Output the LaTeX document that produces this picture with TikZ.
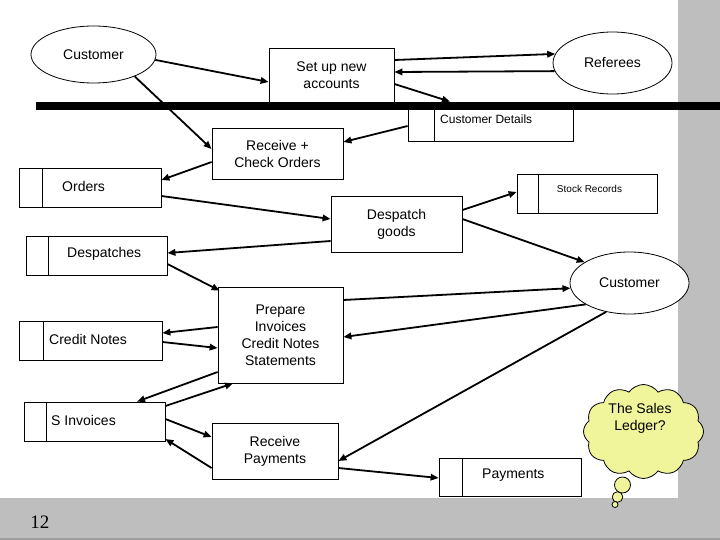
\documentclass[tikz,border=0pt]{standalone}
\usepackage{fontspec}
\setmainfont{Liberation Sans}
\newfontfamily\pagenumfont{Liberation Serif}
\usetikzlibrary{arrows.meta,shapes.geometric,shapes.symbols,calc}
\definecolor{slidegray}{RGB}{190,190,190}
\definecolor{cloudyellow}{RGB}{240,244,155}
\begin{document}
\begin{tikzpicture}[x=1pt,y=-1pt,
  every node/.style={font=\fontsize{14}{17}\selectfont},
  box/.style={draw,line width=0.8pt,fill=white,inner sep=0pt,align=center},
  ell/.style={ellipse,draw,line width=0.8pt,fill=white,inner sep=0pt},
  store/.style={draw,line width=0.8pt,fill=white,inner sep=0pt,
    path picture={\draw[line width=0.8pt] ([xshift=#1]path picture bounding box.north west) -- ([xshift=#1]path picture bounding box.south west);}},
  store/.default=23pt,
  flow/.style={line width=1.8pt,-{Triangle[length=8pt,width=6.5pt]}},
  lbl/.style={anchor=west,inner sep=0pt}
]
\useasboundingbox (0,0) rectangle (720,540);
% slide background strips
\fill[slidegray] (678,0) rectangle (720,540);
\fill[slidegray] (0,498) rectangle (720,540);
\fill[gray!75] (0,538) rectangle (720,540);

% external entities
\node[ell,minimum width=125,minimum height=57] (cust1) at (93.5,54.5) {Customer};
\node[ell,minimum width=119,minimum height=62] (ref) at (612.5,63) {Referees};
\node[ell,minimum width=119,minimum height=62] (cust2) at (629.5,283) {Customer};

% processes
\node[box,minimum width=125,minimum height=54] (setup) at (331.5,75) {\raisebox{-2pt}{}Set up new\\accounts};
\node[box,minimum width=131,minimum height=51] (rcv) at (277.5,153.5) {Receive +\\Check Orders};
\node[box,minimum width=131,minimum height=56] (desp) at (396.5,224) {Despatch\\goods};
\node[box,minimum width=125,minimum height=96] (prep) at (280.5,335) {Prepare\\Invoices\\Credit Notes\\Statements};
\node[box,minimum width=126,minimum height=56] (rpay) at (275,451) {Receive\\Payments};

% data stores
\node[store=26pt,minimum width=165,minimum height=39] (custdet) at (490.5,121.5) {};
\node[lbl] (custdettxt) at (440,119) {\fontsize{12}{14}\selectfont Customer Details};
\node[store=23pt,minimum width=142,minimum height=39] (orders) at (90,187.5) {};
\node[lbl] (orderstxt) at (62,186) {Orders};
\node[store=21pt,minimum width=140,minimum height=39] (stock) at (587,193.5) {};
\node[inner sep=0pt] (stocktxt) at (589.5,189) {\fontsize{10}{12}\selectfont Stock Records};
\node[store=22pt,minimum width=141,minimum height=39] (desps) at (96.5,255.5) {};
\node[lbl] (despstxt) at (67,254) {Despatches};
\node[store=24pt,minimum width=143,minimum height=39] (credit) at (90.5,340.5) {};
\node[lbl] (credittxt) at (49,339) {Credit Notes};
\node[store=22pt,minimum width=141,minimum height=39] (sinv) at (94.5,421.5) {};
\node[lbl] (sinvtxt) at (51,420) {S Invoices};
\node[store=23pt,minimum width=142,minimum height=38] (pay) at (510,477) {};
\node[lbl] (paytxt) at (482,475) {Payments};

% flows
\draw[flow] (cust1.-5) -- (setup.west |- 0,82);
\draw[flow] (setup.east |- 0,60) -- (ref.171);
\draw[flow] (ref.188) -- (setup.east |- 0,72);
\draw[flow] (setup.east |- 0,84) -- (custdet.north -| 450,0);
\draw[flow] (cust1.-28) -- (rcv.west |- 0,149);
\draw[flow] (custdet.west |- 0,126) -- (rcv.east |- 0,142);
\draw[flow] (rcv.west |- 0,162) -- (orders.east |- 0,180);
\draw[flow] (desp.east |- 0,210) -- (stock.west |- 0,192);
\draw[flow] (orders.east |- 0,196) -- (desp.west |- 0,219);
\draw[flow] (desp.west |- 0,241) -- (desps.east |- 0,253);
\draw[flow] (desp.east |- 0,219) -- (cust2.155);
\draw[flow] (desps.east |- 0,264) -- ($(prep.north west)+(2,4)$);
\draw[flow] (prep.west |- 0,327) -- (credit.east |- 0,333);
\draw[flow] (credit.east |- 0,342) -- (prep.west |- 0,348);
\draw[flow] (prep.east |- 0,300) -- (cust2.185);
\draw[flow] (cust2.206) -- (prep.east |- 0,337);
\draw[flow] (cust2.231) -- (rpay.east |- 0,461);
\draw[flow] (prep.west |- 0,372) -- (sinv.north -| 137,0);
\draw[flow] (sinv.east |- 0,406) -- (prep.south -| 233,0);
\draw[flow] (sinv.east |- 0,419) -- (rpay.west |- 0,437);
\draw[flow] (rpay.west |- 0,468) -- (sinv.east |- 0,439);
\draw[flow] (rpay.east |- 0,468) -- (pay.west |- 0,478);

% system boundary bar
\fill (36,102) rectangle (720,110);

% thought cloud
\node[cloud,cloud puffs=12,cloud puff arc=110,aspect=1.27,draw,line width=0.8pt,
  fill=cloudyellow,minimum width=120,minimum height=94] (cloud) at (643.5,431.5) {};
\node[align=center,inner sep=0pt] (cloudtxt) at (640,418) {The Sales\\Ledger?};
\draw[line width=0.8pt,fill=cloudyellow] (622.5,485) circle (8);
\draw[line width=0.8pt,fill=cloudyellow] (617.5,497) circle (5.3);
\draw[line width=0.8pt,fill=cloudyellow] (615,504.5) circle (3);

% page number
\node[font=\pagenumfont\fontsize{19}{21}\selectfont,inner sep=0pt] (pagenum) at (40,522) {12};
\end{tikzpicture}
\end{document}
